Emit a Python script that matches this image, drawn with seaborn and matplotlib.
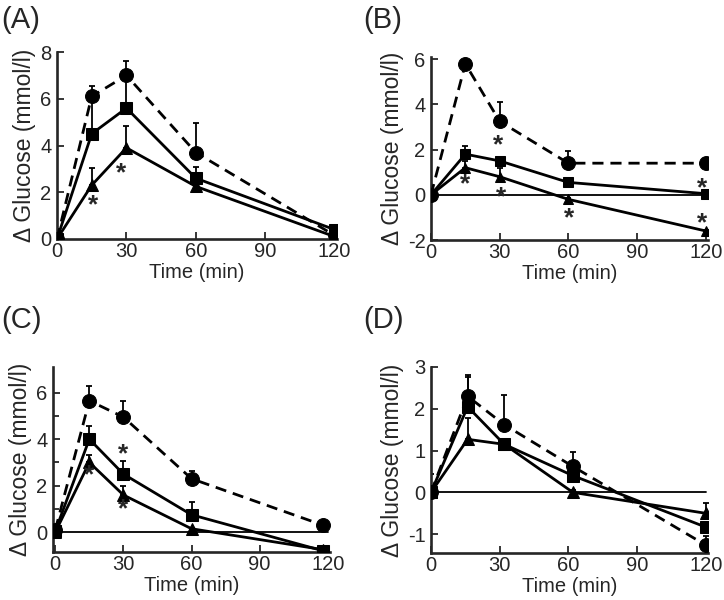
import numpy as np
import pandas as pd
import matplotlib
matplotlib.use("Agg")
import matplotlib.pyplot as plt
import seaborn as sns

# 데이터
time_a = [0, 15, 30, 60, 120]
circle_a = [0.0, 6.1, 7.0, 3.7, 0.15]
circle_a_err = [0.3, 0.45, 0.6, 1.25, 0.1]
square_a = [0.0, 4.5, 5.6, 2.6, 0.4]
square_a_err = [0.2, 1.6, 1.4, 0.5, 0.1]
tri_a = [0.0, 2.3, 3.9, 2.25, 0.1]
tri_a_err = [0.1, 0.75, 0.95, 0.1, 0.1]
star_a_x = [15.5, 27.5]
star_a_y = [1.45, 2.8]

time_b = [0, 15, 30, 60, 120]
circle_b = [0.0, 5.8, 3.25, 1.4, 1.4]
circle_b_err = [0.4, 0.1, 0.85, 0.55, 0.25]
square_b = [0.0, 1.8, 1.5, 0.55, 0.05]
square_b_err = [0.2, 0.35, 0.1, 0.05, 0.05]
tri_b = [0.0, 1.2, 0.8, -0.2, -1.6]
tri_b_err = [0.1, 0.3, 0.4, 0.05, 0.05]
star_b_x = [15, 29.5, 30.5, 60.5, 118.5, 118.5]
star_b_y = [0.45, 2.2, -0.1, -1.05, 0.3, -1.25]

time_c = [0, 15, 30, 60, 118]
circle_c = [0.1, 5.65, 4.95, 2.3, 0.3]
circle_c_err = [0.1, 0.65, 0.7, 0.35, 0.15]
square_c = [0.05, 4.0, 2.5, 0.75, -0.8]
square_c_err = [0.1, 0.55, 0.55, 0.55, 0.2]
tri_c = [0.0, 3.0, 1.6, 0.15, -0.75]
tri_c_err = [0.1, 0.3, 0.4, 0.05, 0.1]
star_c_x = [15, 30, 30]
star_c_y = [2.45, 3.35, 1.0]

time_d = [0, 16, 32, 62, 120]
circle_d = [0.0, 2.3, 1.62, 0.62, -1.26]
circle_d_err = [0.45, 0.5, 0.7, 0.35, 0.22]
square_d = [0.0, 2.05, 1.15, 0.4, -0.83]
square_d_err = [0.1, 0.7, 0.1, 0.1, 0.1]
tri_d = [0.0, 1.27, 1.15, 0.0, -0.5]
tri_d_err = [0.1, 0.5, 0.1, 0.05, 0.25]
star_d_x = []
star_d_y = []

sns.set_style("ticks")
plt.rcParams["font.family"] = ["Liberation Sans", "DejaVu Sans"]
plt.rcParams["axes.unicode_minus"] = False


def draw_panel(ax, t, series, stars_x, stars_y, ylim, yticks, xlim, zero_line, minor=None):
    for vals, err, marker, ms, ls in series:
        df = pd.DataFrame({"time": t, "glucose": vals})
        ax.errorbar(t, vals, yerr=[np.zeros(len(err)), err], fmt="none",
                    ecolor="black", elinewidth=1.3, capsize=2.5, capthick=1.3, zorder=2)
        sns.lineplot(data=df, x="time", y="glucose", ax=ax, color="black",
                     marker=marker, markersize=ms, markeredgecolor="black",
                     linestyle=ls, linewidth=2.0, zorder=3)
    if zero_line:
        ax.plot([0, 120], [0, 0], color="black", linewidth=1.3, zorder=1)
    for sx, sy in zip(stars_x, stars_y):
        ax.text(sx, sy, "*", ha="center", va="center", fontsize=19, fontweight="bold")
    ax.set_xlim(*xlim)
    ax.set_ylim(*ylim)
    ax.set_xticks([0, 30, 60, 90, 120])
    ax.set_yticks(yticks)
    if minor is not None:
        ax.set_yticks(minor, minor=True)
    ax.tick_params(direction="in", length=5, width=1.3, labelsize=14.5)
    ax.tick_params(axis="x", pad=2)
    ax.tick_params(axis="y", pad=4)
    ax.tick_params(which="minor", direction="in", length=4, width=1.3)
    ax.set_xlabel("Time (min)", fontsize=14.5, labelpad=1.5)
    ax.set_ylabel("Δ Glucose (mmol/l)", fontsize=16.5, labelpad=3)
    sns.despine(ax=ax)
    for s in ["left", "bottom"]:
        ax.spines[s].set_linewidth(1.9)


fig = plt.figure(figsize=(7.24, 6), dpi=100)
W, H = 724, 600


def make_ax(left, top, right, bottom):
    return fig.add_axes([left / W, 1 - bottom / H, (right - left) / W, (bottom - top) / H])


dash = (0, (4, 2.5))
ax_a = make_ax(57, 52, 337, 239)
draw_panel(ax_a, time_a,
           [(circle_a, circle_a_err, "o", 10, dash),
            (square_a, square_a_err, "s", 8, "-"),
            (tri_a, tri_a_err, "^", 8.5, "-")],
           star_a_x, star_a_y, (0, 8), [0, 2, 4, 6, 8], (0, 121), False)

ax_b = make_ax(431, 57, 708, 240)
draw_panel(ax_b, time_b,
           [(circle_b, circle_b_err, "o", 10, dash),
            (square_b, square_b_err, "s", 7, "-"),
            (tri_b, tri_b_err, "^", 7, "-")],
           star_b_x, star_b_y, (-2, 6.1), [-2, 0, 2, 4, 6], (0, 121), True)

ax_c = make_ax(53, 367, 330, 552)
draw_panel(ax_c, time_c,
           [(circle_c, circle_c_err, "o", 10, dash),
            (square_c, square_c_err, "s", 8.5, "-"),
            (tri_c, tri_c_err, "^", 8.5, "-")],
           star_c_x, star_c_y, (-0.85, 7.1), [0, 2, 4, 6], (-1, 121), True,
           minor=[1, 3, 5])

ax_d = make_ax(431, 367, 708, 553)
draw_panel(ax_d, time_d,
           [(circle_d, circle_d_err, "o", 10, dash),
            (square_d, square_d_err, "s", 8, "-"),
            (tri_d, tri_d_err, "^", 8.5, "-")],
           star_d_x, star_d_y, (-1.45, 3.0), [-1, 0, 1, 2, 3], (0, 121), True)

for label, x, y in [("(A)", 1, 20), ("(B)", 363, 20), ("(C)", 1, 320), ("(D)", 363, 320)]:
    fig.text(x / W, 1 - y / H, label, fontsize=21, ha="left", va="center")

fig.savefig("out.png", dpi=100)
